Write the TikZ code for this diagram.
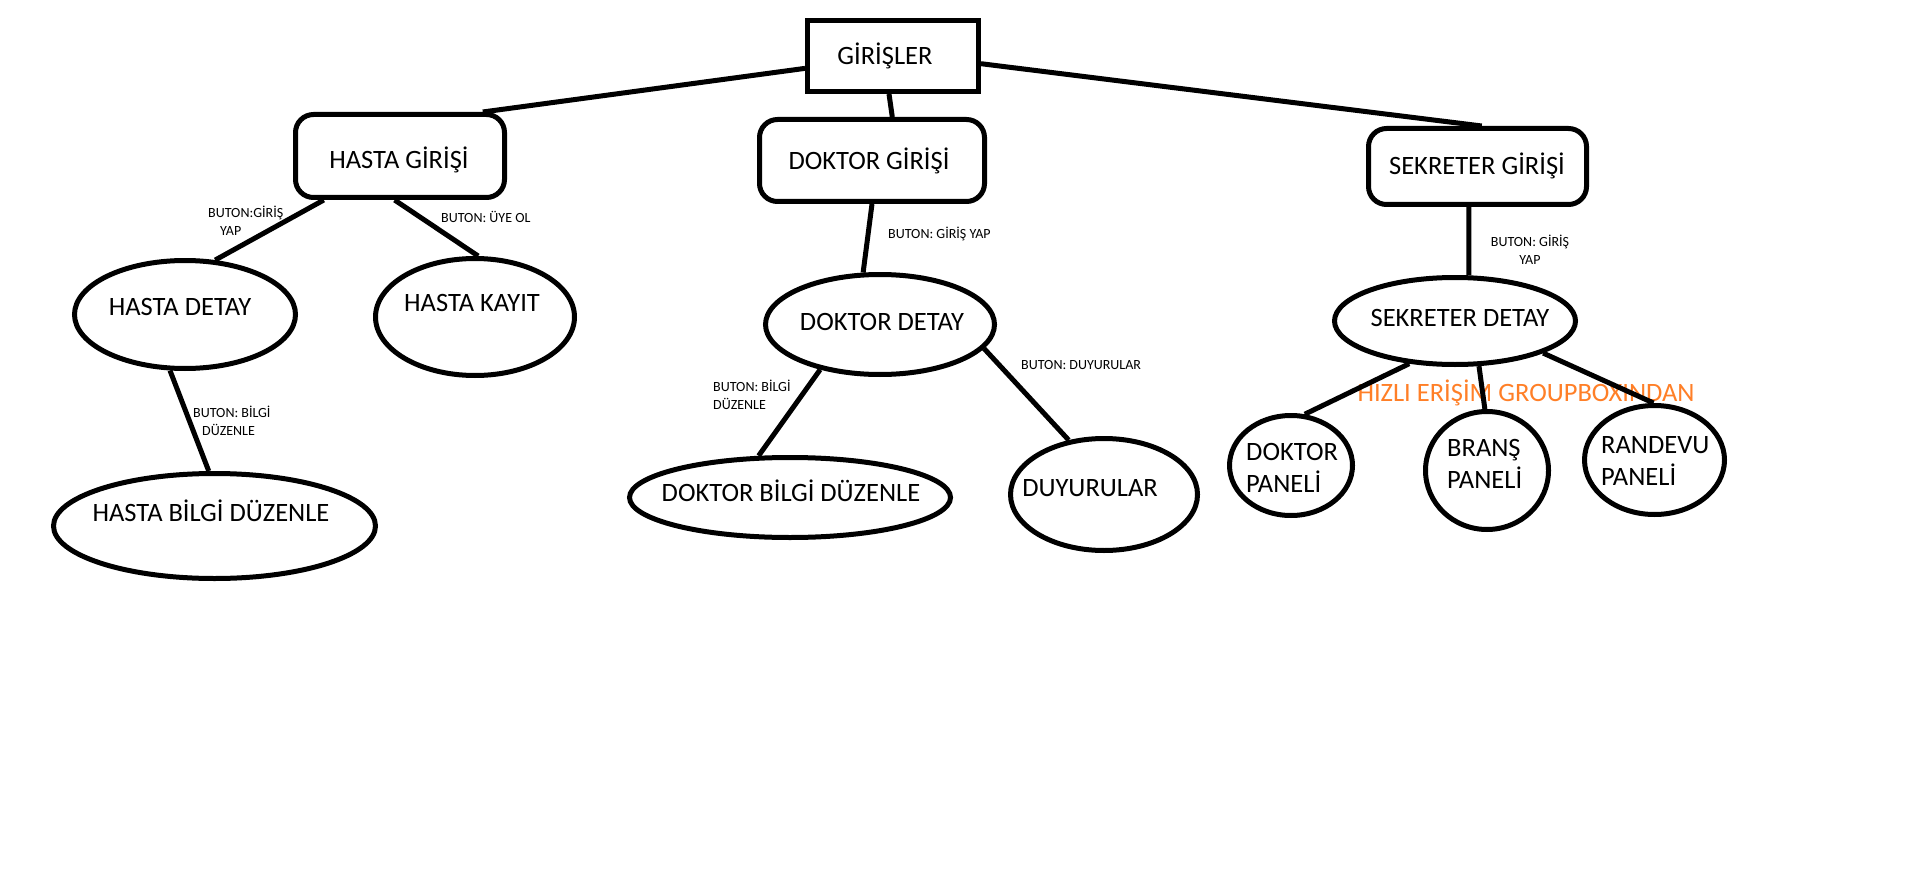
\documentclass[tikz,border=0pt]{standalone}
\usepackage{fontspec}
\setmainfont{Carlito}
\usetikzlibrary{shapes.geometric}
\definecolor{paintorange}{RGB}{255,127,39}
\begin{document}
\begin{tikzpicture}[x=1pt,y=-1pt,
  box/.style={draw, rectangle, inner sep=0pt, line width=5pt},
  rbox/.style={box, rounded corners=18pt},
  oval/.style={draw, ellipse, inner sep=0pt, line width=5pt},
  big/.style={font=\fontsize{26.5pt}{32pt}\selectfont, inner sep=0pt, anchor=base},
  bigl/.style={font=\fontsize{26.5pt}{32pt}\selectfont, inner sep=0pt, anchor=base west},
  small/.style={font=\fontsize{14pt}{18pt}\selectfont, inner sep=0pt, anchor=base west},
  smallc/.style={font=\fontsize{14pt}{18pt}\selectfont, inner sep=0pt, anchor=base},
  conn/.style={line width=5pt}]
\fill[white] (0,0) rectangle (1911,869);
\useasboundingbox (0,0) rectangle (1911,869);

% shapes
\node[box, minimum width=171pt, minimum height=71pt] (gir) at (893,56) {};
\node[rbox, minimum width=209pt, minimum height=83pt] (hg) at (400,156) {};
\node[rbox, minimum width=225pt, minimum height=82pt] (dg) at (872,160.5) {};
\node[rbox, minimum width=218pt, minimum height=76pt] (sg) at (1477.5,166.5) {};

\node[oval, minimum width=221pt, minimum height=108pt] (hd) at (185,314.5) {};
\node[oval, minimum width=199pt, minimum height=117pt] (hk) at (475,317) {};
\node[oval, minimum width=322pt, minimum height=105pt] (hb) at (214.5,526) {};
\node[oval, minimum width=229pt, minimum height=100pt] (dd) at (880,324.5) {};
\node[oval, minimum width=321pt, minimum height=80pt] (db) at (790,497.5) {};
\node[oval, minimum width=187pt, minimum height=112pt] (du) at (1104,494.5) {};
\node[oval, minimum width=241pt, minimum height=87pt] (sd) at (1455,321) {};
\node[oval, minimum width=123pt, minimum height=100pt] (dp) at (1291,465.5) {};
\node[oval, minimum width=123pt, minimum height=118pt] (bp) at (1487,470.5) {};
\node[oval, minimum width=140pt, minimum height=109pt] (rp) at (1654.5,460) {};

% texts
\node[big] (girT) at (885,64.5) {GİRİŞLER};
\node[big] (hgT) at (399,168.5) {HASTA GİRİŞİ};
\node[big] (dgT) at (869,169.5) {DOKTOR GİRİŞİ};
\node[big] (sgT) at (1477,174.5) {SEKRETER GİRİŞİ};
\node[big] (hdT) at (180,315.5) {HASTA DETAY};
\node[big] (hkT) at (472,311.5) {HASTA KAYIT};
\node[big] (hbT) at (211,521.5) {HASTA BİLGİ DÜZENLE};
\node[big] (ddT) at (882,330.5) {DOKTOR DETAY};
\node[big] (dbT) at (791,501.5) {DOKTOR BİLGİ DÜZENLE};
\node[big] (duT) at (1090,496.5) {DUYURULAR};
\node[big] (sdT) at (1460,326.5) {SEKRETER DETAY};
\node[bigl] (dpT) at (1246,460.5) {\begin{tabular}[t]{@{}l@{}}DOKTOR\\PANELİ\end{tabular}};
\node[bigl] (bpT) at (1447,456.5) {\begin{tabular}[t]{@{}l@{}}BRANŞ\\PANELİ\end{tabular}};
\node[bigl] (rpT) at (1601,453.5) {\begin{tabular}[t]{@{}l@{}}RANDEVU\\PANELİ\end{tabular}};
\node[big, text=paintorange] (hiz) at (1526,401.5) {HIZLI ERİŞİM GROUPBOXINDAN};

% connector labels
\node[small] (l1) at (208,217.5) {\begin{tabular}[t]{@{}l@{}}BUTON:GİRİŞ\\\hspace*{12pt}YAP\end{tabular}};
\node[small] (l2) at (441,222.5) {BUTON: ÜYE OL};
\node[small] (l3) at (193,417.5) {\begin{tabular}[t]{@{}l@{}}BUTON: BİLGİ\\\hspace*{9pt}DÜZENLE\end{tabular}};
\node[small] (l4) at (888,238.5) {BUTON: GİRİŞ YAP};
\node[small] (l5) at (713,391.5) {\begin{tabular}[t]{@{}l@{}}BUTON: BİLGİ\\DÜZENLE\end{tabular}};
\node[small] (l6) at (1021,369.5) {BUTON: DUYURULAR};
\node[smallc] (l7) at (1530,246.5) {\begin{tabular}[t]{@{}c@{}}BUTON: GİRİŞ\\YAP\end{tabular}};

% connectors
\draw[conn] (gir.188) -- (hg.28);
\draw[conn] (gir.264) -- (dg.65);
\draw[conn] (gir.355.5) -- (sg.84);
\draw[conn] (hg.210) -- (hd.61);
\draw[conn] (hg.263) -- (hk.87);
\draw[conn] (hd.255) -- (hb.96);
\draw[conn] (dg.270) -- (dd.108);
\draw[conn] (dd.217) -- (db.127);
\draw[conn] (dd.347) -- (du.123);
\draw[conn] (sg.258) -- (sd.73);
\draw[conn] (sd.223) -- (dp.75);
\draw[conn] (sd.298) -- (bp.92);
\draw[conn] (sd.340) -- (rp.91);
\end{tikzpicture}
\end{document}
